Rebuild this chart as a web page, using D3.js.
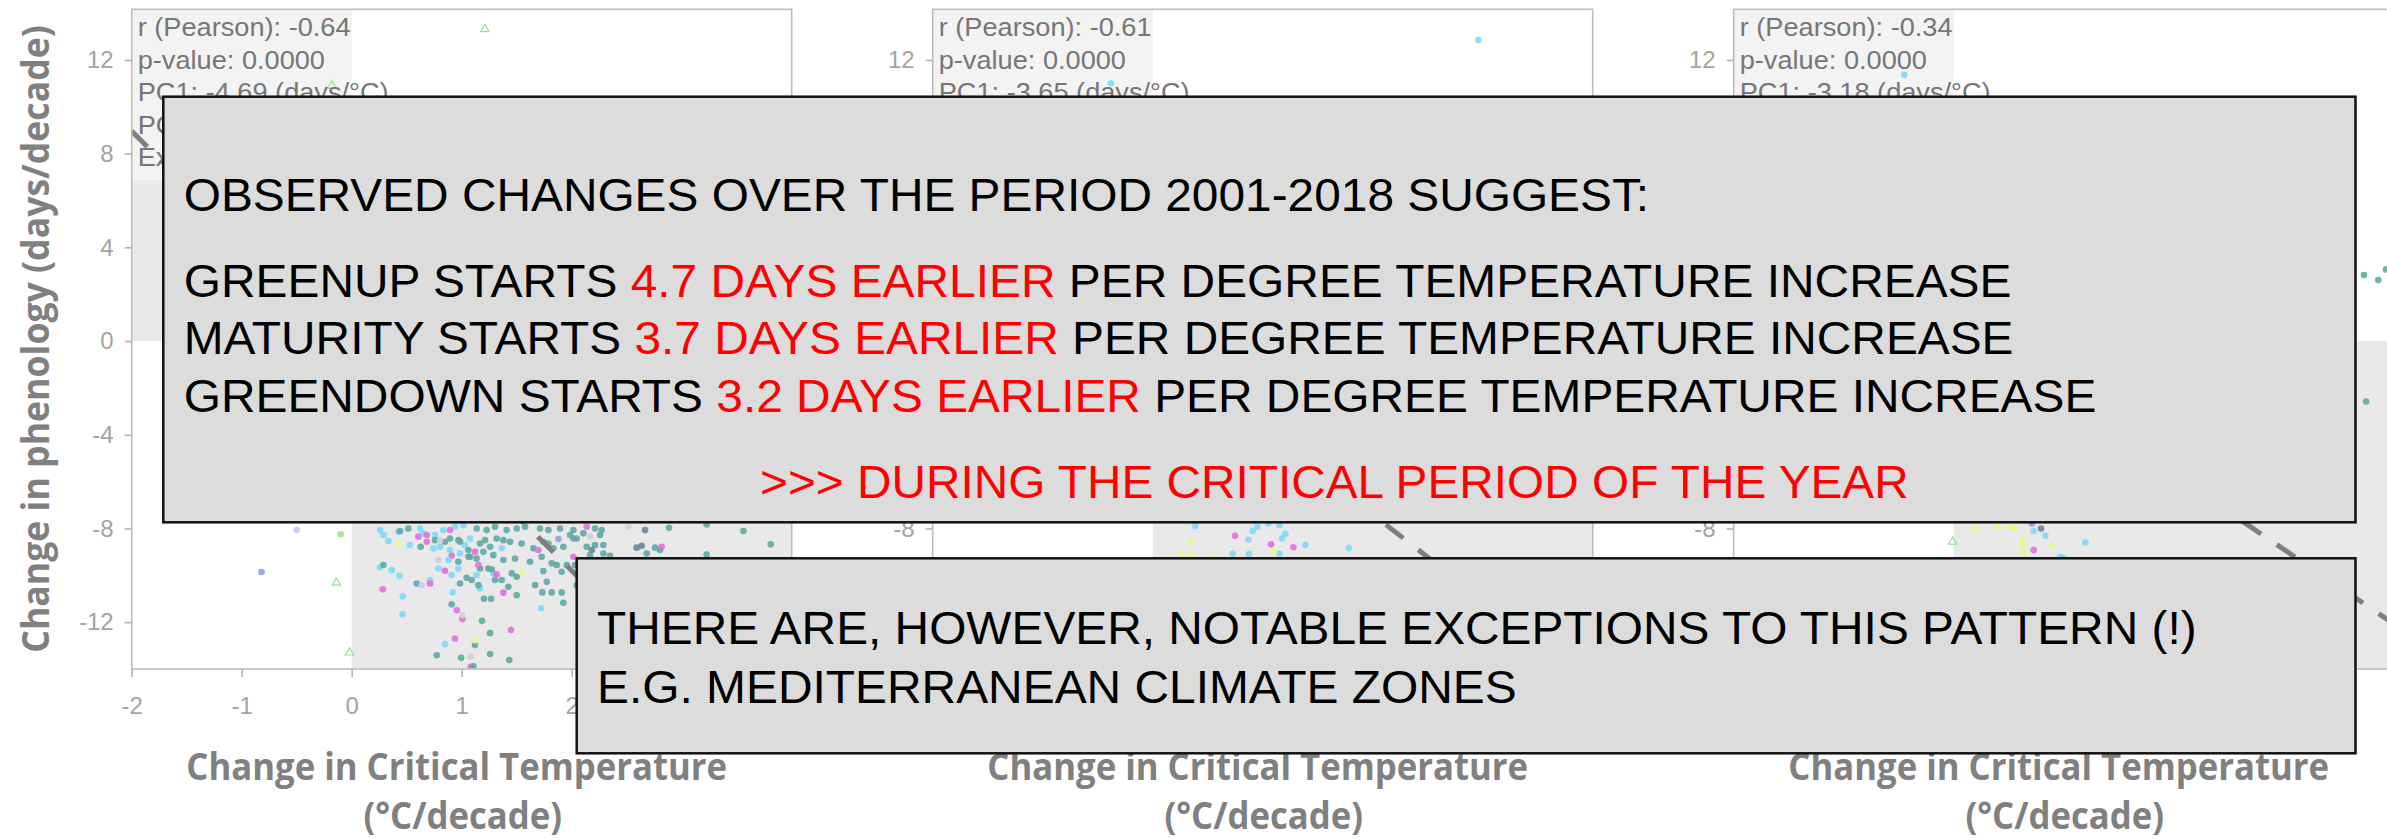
<!DOCTYPE html>
<html lang="en">
<head>
<meta charset="UTF-8">
<script src="https://d3js.org/d3.v7.min.js"></script>
<title>Change in phenology vs change in critical temperature</title>
<style>
  body { margin: 0; background: #fff; }
  svg { display: block; font-family: "Liberation Sans", Arial, sans-serif; }
</style>
</head>
<body>
<svg id="chart" width="2387" height="839"></svg>
<script>
// ---- data ----
const panelNames = ["greenup", "maturity", "greendown"];
const pearsonR = ["-0.64", "-0.61", "-0.34"];
const pValues = ["0.0000", "0.0000", "0.0000"];
const pc1Slopes = [-4.69, -3.65, -3.18];
const lineIntercepts = [-0.42, -0.10, 0.65];
const xTicks = [-2, -1, 0, 1, 2, 3, 4];
const yTicks = [-12, -8, -4, 0, 4, 8, 12];
const xDomain = [-2, 4];
const yDomain = [-14, 14.16];

// points: [change in critical temperature, change in phenology, zone]
const greenupPts = [
  [0.258,-8.07,"C"],[0.288,-8.28,"C"],[0.424,-8.14,"C"],[0.621,-8.0,"C"],[0.652,-8.21,"C"],[0.758,-8.28,"C"],[0.833,-8.07,"C"],[0.939,-7.93,"C"],[1.015,-7.86,"C"],
  [0.439,-8.11,"T"],[0.515,-8.0,"T"],[0.894,-8.43,"T"],[0.970,-8.50,"T"],[1.136,-8.0,"T"],[1.227,-8.07,"T"],[1.303,-7.93,"T"],[1.409,-8.07,"T"],[1.5,-8.0,"T"],[1.576,-7.93,"T"],[1.712,-8.0,"T"],[1.788,-8.07,"T"],[1.894,-8.0,"T"],[1.985,-8.28,"T"],
  [0.606,-8.35,"M"],[0.682,-8.28,"M"],[0.894,-8.07,"M"],[0.424,-8.64,"Y"],
  [0.333,-8.54,"C"],[0.530,-8.71,"C"],[0.742,-8.85,"C"],[0.803,-8.78,"C"],[0.894,-8.92,"C"],[0.985,-9.07,"C"],[1.03,-8.71,"C"],[1.076,-8.43,"C"],[1.364,-8.85,"C"],
  [0.627,-8.78,"T"],[0.758,-8.50,"T"],[0.848,-8.57,"T"],[0.985,-8.57,"T"],[1.061,-8.92,"T"],[1.167,-8.64,"T"],[1.212,-8.50,"T"],[1.258,-8.78,"T"],[1.318,-8.43,"T"],[1.379,-8.50,"T"],[1.439,-8.57,"T"],[1.545,-8.64,"T"],[1.652,-8.85,"T"],[1.742,-8.57,"T"],[1.833,-8.85,"T"],[1.924,-8.78,"T"],[1.727,-9.21,"T"],[1.788,-8.64,"T"],[2.015,-8.43,"T"],[1.061,-9.21,"T"],[1.136,-9.28,"T"],[1.197,-9.0,"T"],[1.288,-9.14,"T"],[1.379,-9.35,"T"],[1.485,-9.28,"T"],
  [0.682,-8.57,"M"],[1.121,-9.0,"M"],[0.909,-9.17,"M"],[1.697,-8.92,"M"],[0.803,-8.50,"G"],[0.788,-9.35,"G"],[1.879,-8.45,"B"],
  [0.258,-9.66,"C"],[0.364,-9.78,"C"],[0.433,-10.02,"C"],[0.712,-10.2,"C"],[0.788,-9.71,"C"],[0.879,-9.35,"C"],[0.909,-9.99,"C"],[0.970,-9.71,"C"],[1.136,-9.99,"C"],[1.288,-9.92,"C"],[1.167,-10.56,"C"],
  [0.288,-9.56,"T"],[0.591,-10.35,"T"],[0.970,-9.42,"T"],[1.045,-10.11,"T"],[1.091,-10.2,"T"],[1.152,-10.42,"T"],[1.167,-9.71,"T"],[1.242,-9.71,"T"],[1.273,-9.75,"T"],[1.303,-10.2,"T"],[1.364,-10.2,"T"],[1.424,-10.49,"T"],[1.455,-9.92,"T"],[1.5,-10.06,"T"],[1.621,-9.42,"T"],[1.667,-10.42,"T"],[1.742,-9.82,"T"],[1.773,-10.28,"T"],[1.818,-9.49,"T"],[1.864,-9.56,"T"],[1.909,-9.85,"T"],[1.955,-9.56,"T"],[0.985,-10.35,"T"],[1.076,-9.21,"T"],
  [0.848,-9.81,"M"],[0.712,-10.35,"M"],[1.318,-9.96,"M"],[1.152,-9.56,"M"],[1.545,-9.88,"Y"],[0.636,-10.42,"L"],
  [0.282,-10.6,"M"],[1.379,-10.74,"M"],[0.955,-11.49,"M"],[1.006,-11.87,"M"],[0.939,-12.7,"M"],[1.448,-12.33,"M"],[1.082,-13.91,"M"],
  [0.464,-10.9,"C"],[0.461,-11.66,"C"],[0.918,-10.73,"C"],[1.721,-11.41,"C"],[0.848,-12.94,"C"],
  [1.203,-11.0,"T"],[1.267,-11.0,"T"],[1.5,-10.85,"T"],[1.733,-10.73,"T"],[1.818,-10.73,"T"],[1.909,-10.73,"T"],[1.924,-11.17,"T"],[0.909,-11.24,"T"],[1.185,-11.94,"T"],[1.258,-12.47,"T"],[0.773,-13.41,"T"],[0.994,-13.52,"T"],[1.121,-12.98,"T"],[1.258,-13.36,"T"],[1.433,-13.62,"T"],[1.106,-13.88,"T"],
  [1.006,-11.7,"G"],[1.082,-13.48,"G"],[1.121,-12.77,"Y"],[2.045,-10.42,"T"],[2.03,-9.56,"T"],
  [-0.50,-8.07,"L"],[-0.10,-8.25,"D"],[-0.82,-9.86,"B"],[-0.14,-10.32,"A"],[-0.02,-13.3,"A"],
  [2.015,-8.07,"T"],[2.106,-8.21,"T"],[2.212,-8.0,"T"],[2.273,-8.07,"T"],[2.258,-8.28,"T"],[2.288,-8.71,"T"],[2.212,-8.71,"T"],[2.136,-8.78,"T"],[2.167,-9.14,"T"],[2.288,-9.07,"T"],[2.348,-9.17,"T"],[2.045,-8.43,"T"],[2.682,-9.07,"T"],[2.758,-8.82,"T"],[2.803,-8.92,"T"],[2.885,-7.97,"T"],[3.227,-7.83,"T"],[3.561,-8.11,"T"],[3.809,-8.68,"T"],[3.227,-9.11,"T"],
  [2.136,-7.93,"M"],[2.015,-9.21,"M"],[2.818,-8.78,"M"],[2.167,-8.35,"G"],[2.515,-7.93,"G"],
  [2.182,-8.92,"S"],[2.591,-8.82,"S"],[2.636,-8.74,"S"],[2.667,-8.07,"S"],
  [1.21,13.31,"A"],[-0.18,10.9,"A"]
];
const maturityPts = [
  [0.385,-7.89,"C"],[0.909,-8.11,"C"],[0.952,-7.93,"C"],[1.052,-7.79,"C"],[1.152,-7.86,"C"],[0.870,-8.47,"C"],[1.176,-8.43,"C"],[1.206,-8.23,"C"],[1.388,-8.70,"C"],[1.782,-8.84,"C"],[0.727,-9.08,"C"],[0.876,-9.09,"C"],[1.152,-9.07,"C"],[2.96,12.85,"C"],[-0.38,11.0,"C"],
  [0.748,-8.31,"M"],[1.076,-8.68,"M"],[1.279,-8.80,"M"],
  [0.345,-8.57,"Y"],[0.264,-9.14,"Y"],[0.355,-9.11,"Y"],[0.536,-9.25,"Y"],[1.103,-8.97,"Y"]
];
const greendownPts = [
  [0.206,-7.99,"Y"],[0.4,-7.94,"Y"],[0.515,-7.94,"Y"],[0.545,-8.0,"Y"],[0.621,-8.54,"Y"],[0.630,-8.71,"Y"],[0.894,-8.74,"Y"],[0.642,-9.02,"Y"],
  [0.794,-8.0,"S"],[3.73,2.82,"T"],[3.86,2.6,"T"],[3.93,3.05,"T"],[3.75,-2.58,"T"],
  [0.727,-8.11,"C"],[0.833,-8.31,"C"],[1.197,-8.6,"C"],[-0.45,11.36,"C"],[0.97,-9.21,"C"],[1.0,-9.25,"C"],
  [0.712,-7.79,"B"],[0.727,-8.92,"M"],[-0.009,-8.57,"A"]
];
const panelPts = [greenupPts, maturityPts, greendownPts];

// annotation text: [text, red?]
const boxOneLines = [
  [["OBSERVED CHANGES OVER THE PERIOD 2001-2018 SUGGEST:", false]],
  [["GREENUP STARTS ", false], ["4.7 DAYS EARLIER", true], [" PER DEGREE TEMPERATURE INCREASE", false]],
  [["MATURITY STARTS ", false], ["3.7 DAYS EARLIER", true], [" PER DEGREE TEMPERATURE INCREASE", false]],
  [["GREENDOWN STARTS ", false], ["3.2 DAYS EARLIER", true], [" PER DEGREE TEMPERATURE INCREASE", false]],
  [[">>> DURING THE CRITICAL PERIOD OF THE YEAR", true]]
];
const boxTwoLines = [
  [["THERE ARE, HOWEVER, NOTABLE EXCEPTIONS TO THIS PATTERN (!)", false]],
  [["E.G. MEDITERRANEAN CLIMATE ZONES", false]]
];

// ---- styling / layout ----
const zoneColor = { T: "#5fa9a3", C: "#7fd9fb", M: "#e36fe0", Y: "#e3f88c", L: "#c8c8f4",
                    B: "#8f9fe0", G: "#d2d2d2", S: "#6d8593", D: "#9fe58a", A: "#8de58d" };
const panelLeft = [131.7, 932.7, 1733.7];
const panelW = 660, panelTop = 9.3, panelBottom = 669;

const svg = d3.select("#chart");

// stretch a text node horizontally to a target width
function fit(sel, target, base) {
  const w = sel.node().getComputedTextLength();
  sel.attr("transform", base + ` scale(${target / w},1)`);
  return target / w;
}

panelPts.forEach((pts, i) => {
  const left = panelLeft[i];
  const x = d3.scaleLinear().domain(xDomain).range([left, left + panelW]);
  const y = d3.scaleLinear().domain(yDomain).range([panelBottom, panelTop]);
  const g = svg.append("g").attr("class", "panel " + panelNames[i]);

  g.append("clipPath").attr("id", "clip" + i)
    .append("rect").attr("x", left).attr("y", panelTop)
    .attr("width", panelW).attr("height", panelBottom - panelTop);

  // quadrants where the two changes have opposite sign
  g.append("rect").attr("x", x(xDomain[0])).attr("y", y(yDomain[1]))
    .attr("width", x(0) - x(xDomain[0])).attr("height", y(0) - y(yDomain[1]))
    .attr("fill", "#e9e9e9");
  g.append("rect").attr("x", x(0)).attr("y", y(0))
    .attr("width", x(xDomain[1]) - x(0)).attr("height", y(yDomain[0]) - y(0))
    .attr("fill", "#e9e9e9");

  // stats label background
  g.append("rect").attr("x", left).attr("y", panelTop)
    .attr("width", x(0) - left).attr("height", 171)
    .attr("fill", "#fff").attr("opacity", 0.45);

  const plot = g.append("g").attr("clip-path", `url(#clip${i})`);

  plot.selectAll("circle").data(pts.filter(d => d[2] !== "A")).join("circle")
    .attr("cx", d => x(d[0])).attr("cy", d => y(d[1])).attr("r", 3.3)
    .attr("fill", d => zoneColor[d[2]]).attr("opacity", 0.9);

  plot.selectAll("path.tri").data(pts.filter(d => d[2] === "A")).join("path")
    .attr("class", "tri")
    .attr("d", d3.symbol(d3.symbolTriangle).size(30))
    .attr("transform", d => `translate(${x(d[0])},${y(d[1])})`)
    .attr("fill", "none").attr("stroke", zoneColor.A).attr("stroke-width", 1.2);

  // principal component line
  plot.append("line")
    .attr("x1", x(xDomain[0])).attr("y1", y(lineIntercepts[i] + pc1Slopes[i] * xDomain[0]))
    .attr("x2", x(xDomain[1])).attr("y2", y(lineIntercepts[i] + pc1Slopes[i] * xDomain[1]))
    .attr("stroke", "#7f7f7f").attr("stroke-width", 5).attr("stroke-dasharray", "22 19");

  // frame
  g.append("rect").attr("x", left).attr("y", panelTop)
    .attr("width", panelW).attr("height", panelBottom - panelTop)
    .attr("fill", "none").attr("stroke", "#bdbdbd").attr("stroke-width", 1.6);

  // axes
  const yAxis = g.append("g").attr("transform", `translate(${left},0)`)
    .call(d3.axisLeft(y).tickValues(yTicks).tickSize(7).tickPadding(11).tickFormat(d => String(d)));
  const xAxis = g.append("g").attr("transform", `translate(0,${panelBottom})`)
    .call(d3.axisBottom(x).tickValues(xTicks).tickSize(8).tickPadding(20).tickFormat(d => String(d)));
  [yAxis, xAxis].forEach(a => {
    a.select(".domain").remove();
    a.selectAll(".tick line").attr("stroke", "#b3b3b3").attr("stroke-width", 1.6);
    a.selectAll(".tick text").attr("fill", "#a3a3a3")
      .style("font-family", "'Liberation Sans', Arial, sans-serif").style("font-size", "24px");
  });

  // stats text
  const stats = [
    `r (Pearson): ${pearsonR[i]}`,
    `p-value: ${pValues[i]}`,
    `PC1: ${pc1Slopes[i].toFixed(2)} (days/°C)`,
    "PC2",
    "Explained var."
  ];
  const st = g.append("g").attr("fill", "#767676").style("font-size", "26px");
  let sx = 1;
  stats.forEach((s, k) => {
    const t = st.append("text").attr("x", 0).attr("y", 0).text(s);
    const base = `translate(${left + 6},${36 + k * 32.5})`;
    if (k === 0) sx = fit(t, 213, base);
    else t.attr("transform", base + ` scale(${sx},1)`);
  });

  // x axis title
  const tx = left + 325;
  const t1 = g.append("text").attr("text-anchor", "middle")
    .style("font-family", "'Open Sans', sans-serif").style("font-weight", 700).style("font-size", "37px")
    .attr("fill", "#808080").text("Change in Critical Temperature");
  const s1 = fit(t1, 541, `translate(${tx},780)`);
  g.append("text").attr("text-anchor", "middle")
    .style("font-family", "'Open Sans', sans-serif").style("font-weight", 700).style("font-size", "37px")
    .attr("fill", "#808080").text("(°C/decade)")
    .attr("transform", `translate(${tx + 6},829) scale(${s1},1)`);
});

// y axis title (only on the first panel)
const yt = svg.append("text").attr("text-anchor", "middle")
  .style("font-family", "'Open Sans', sans-serif").style("font-weight", 700).style("font-size", "37px")
  .attr("fill", "#808080").text("Change in phenology (days/decade)");
fit(yt, 628, "translate(49,339) rotate(-90)");

// ---- annotation boxes ----
function drawBox(x0, y0, x1, y1, lines, layout) {
  const g = svg.append("g").attr("class", "note");
  g.append("rect").attr("x", x0).attr("y", y0).attr("width", x1 - x0).attr("height", y1 - y0)
    .attr("fill", "#dcdcdc").attr("stroke", "#111").attr("stroke-width", 2.5);
  lines.forEach((parts, k) => {
    const t = g.append("text").attr("x", 0).attr("y", 0).style("font-size", "47px")
      .style("white-space", "pre");
    parts.forEach(p => t.append("tspan").attr("fill", p[1] ? "#ff0000" : "#000").text(p[0]));
    const [lx, ly, lw] = layout[k];
    fit(t, lw, `translate(${lx},${ly})`);
  });
}
drawBox(163.3, 96.7, 2355.5, 522.3, boxOneLines,
  [[183.7, 210.7, 1466], [183.7, 296.7, 1828], [183.7, 354, 1830], [183.7, 411.7, 1913], [760, 498, 1149]]);
drawBox(576.7, 558.3, 2355.5, 753.3, boxTwoLines,
  [[597, 644, 1600], [597, 702.7, 920]]);
</script>
</body>
</html>
